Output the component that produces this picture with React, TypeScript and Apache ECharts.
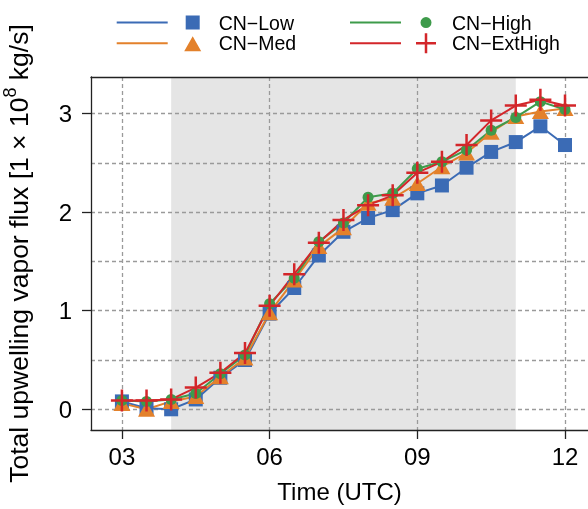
import React, { useEffect, useRef } from "react";
import * as echarts from "echarts";

const times = [3, 3.5, 4, 4.5, 5, 5.5, 6, 6.5, 7, 7.5, 8, 8.5, 9, 9.5, 10, 10.5, 11, 11.5, 12];
const cnLow = [0.08, 0.01, 0.0, 0.1, 0.32, 0.5, 0.97, 1.23, 1.56, 1.8, 1.94, 2.02, 2.19, 2.27, 2.45, 2.61, 2.71, 2.87, 2.68];
const cnMed = [0.06, 0.0, 0.08, 0.13, 0.33, 0.52, 0.98, 1.31, 1.65, 1.84, 2.09, 2.14, 2.29, 2.46, 2.6, 2.81, 2.97, 3.02, 3.05];
const cnHigh = [0.09, 0.08, 0.1, 0.16, 0.36, 0.55, 1.07, 1.33, 1.7, 1.89, 2.15, 2.19, 2.44, 2.51, 2.63, 2.83, 2.96, 3.12, 3.04];
const cnExtHigh = [0.09, 0.09, 0.1, 0.22, 0.37, 0.57, 1.05, 1.37, 1.69, 1.92, 2.07, 2.17, 2.4, 2.51, 2.68, 2.93, 3.08, 3.14, 3.08];

const seriesNames = ["CN\u2212Low", "CN\u2212Med", "CN\u2212High", "CN\u2212ExtHigh"];
const xTicks = [3, 6, 9, 12];
const yTicks = [0, 1, 2, 3];
const yGrid = [0, 0.5, 1, 1.5, 2, 2.5, 3];
const shadeRange = [4, 11];

const FONT = "'Liberation Sans', Arial, Helvetica, sans-serif";
const colors = ["#3B6BB5", "#E3812B", "#3E9B4B", "#D3262A"];

const CROSS = "path://M0,9.75 H22 V12.25 H0 Z M9.75,0 H12.25 V22 H9.75 Z";

// legend icons: line segment + marker, bounding box 97 x 20
const box = "M0,0 M97,20 ";
const lineSeg = "M0,9 H51 V11 H0 Z ";
const legendIcons = [
  "path://" + box + lineSeg + "M69,3 H83 V17 H69 Z",
  "path://" + box + lineSeg + "M67.5,18 L84.5,18 L76,3 Z",
  "path://" + box + lineSeg + "M70.5,10 A5.5,5.5 0 1,0 81.5,10 A5.5,5.5 0 1,0 70.5,10 Z",
  "path://" + box + lineSeg + "M66,8.75 H86 V11.25 H66 Z M74.75,0 H77.25 V20 H74.75 Z",
];

const gridLine = { show: true, lineStyle: { color: "#9a9a9a", width: 1.3, type: [4, 3] as any } };
const axisLineStyle = { show: true, onZero: false, lineStyle: { color: "#222", width: 1.3 } };

export default function App() {
  const ref = useRef<HTMLDivElement>(null);
  useEffect(() => {
    const chart = echarts.init(ref.current!, undefined, { renderer: "svg" });
    const mk = (vals: number[]) => times.map((t, i) => [t, vals[i]]);
    const symbols: any[] = ["rect", "triangle", "circle", CROSS];
    const sizes: any[] = [14, [17, 15], 11, 22];
    const dataSets = [cnLow, cnMed, cnHigh, cnExtHigh];
    const legendPos = [
      { left: 116.7, top: 12.6 },
      { left: 116.7, top: 33.2 },
      { left: 350, top: 12.6 },
      { left: 350, top: 33.2 },
    ];
    chart.setOption({
      animation: false,
      textStyle: { fontFamily: FONT },
      grid: { left: 91, right: 0, top: 77, bottom: 79, outerBoundsMode: "none" } as any,
      legend: seriesNames.map((n, i) => ({
        ...legendPos[i],
        padding: 0,
        orient: "vertical",
        itemWidth: 97,
        itemHeight: 20,
        selectedMode: false,
        itemStyle: { borderWidth: 0 },
        textStyle: { fontSize: 19.5, lineHeight: 18, color: "#000", fontFamily: FONT },
        data: [{ name: n, icon: legendIcons[i] }],
      })),
      xAxis: [
        {
          type: "value",
          position: "bottom",
          min: 2.372,
          max: 12.467,
          z: 1.5,
          axisLine: axisLineStyle,
          axisTick: { show: true, length: 9, customValues: xTicks, lineStyle: { color: "#222", width: 1.3 } },
          axisLabel: {
            customValues: xTicks,
            fontSize: 24,
            color: "#000",
            margin: 14,
            fontFamily: FONT,
            formatter: (v: number) => String(v).padStart(2, "0"),
          },
          splitLine: gridLine,
          name: "Time (UTC)",
          nameLocation: "middle",
          nameGap: 49,
          nameTextStyle: { fontSize: 24, color: "#000", fontFamily: FONT },
        },
        {
          type: "value",
          position: "top",
          min: 2.372,
          max: 12.467,
          z: 1.5,
          axisLine: axisLineStyle,
          axisTick: { show: false },
          axisLabel: { show: false },
          splitLine: { show: false },
        },
      ],
      yAxis: [
        {
          type: "value",
          position: "left",
          min: -0.21,
          max: 3.37,
          z: 1.5,
          axisLine: axisLineStyle,
          axisTick: { show: true, length: 9, customValues: yTicks, lineStyle: { color: "#222", width: 1.3 } },
          axisLabel: { customValues: yTicks, fontSize: 24, color: "#000", margin: 19, fontFamily: FONT },
          splitLine: { show: false },
          name: "{a|Total upwelling vapor flux [1 \u00d7 10}{s|8}{a| kg/s]}",
          nameLocation: "middle",
          nameGap: 59,
          nameMoveOverlap: false,
          nameTextStyle: {
            color: "#000",
            rich: {
              a: { fontSize: 26.5, fontFamily: FONT, color: "#000", verticalAlign: "bottom" },
              s: { fontSize: 18, fontFamily: FONT, color: "#000", verticalAlign: "bottom", padding: [0, 0, 13, 0] },
            },
          },
        } as any,
        {
          type: "value",
          position: "left",
          min: -0.21,
          max: 3.37,
          z: 1.5,
          axisLine: { show: false, onZero: false },
          axisTick: { show: false, customValues: yGrid },
          axisLabel: { show: false },
          splitLine: gridLine,
        },
      ],
      series: [
        {
          type: "line",
          data: [],
          z: 1,
          silent: true,
          markArea: {
            silent: true,
            z: 1,
            itemStyle: { color: "#e5e5e5" },
            data: [[{ xAxis: shadeRange[0] }, { xAxis: shadeRange[1] }]],
          },
        },
        ...seriesNames.map((n, i) => ({
          name: n,
          type: "line",
          z: 2,
          data: mk(dataSets[i]),
          symbol: symbols[i],
          symbolSize: sizes[i],
          showAllSymbol: true,
          lineStyle: { color: colors[i], width: 2 },
          itemStyle: { color: colors[i], borderWidth: 0, opacity: 1 },
          emphasis: { disabled: true },
        })),
      ],
    });
    return () => chart.dispose();
  }, []);
  return <div ref={ref} style={{ position: "fixed", left: 0, top: 0, width: 588, height: 509 }} />;
}
